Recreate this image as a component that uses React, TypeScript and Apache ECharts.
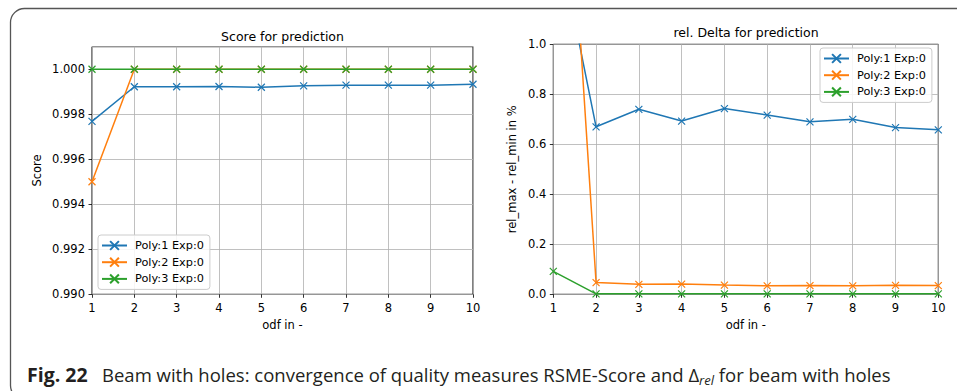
import React, { useEffect, useRef } from "react";
import * as echarts from "echarts";

const odf = [1, 2, 3, 4, 5, 6, 7, 8, 9, 10];
const seriesNames = ["Poly:1 Exp:0", "Poly:2 Exp:0", "Poly:3 Exp:0"];
const colors = ["#1f77b4", "#ff7f0e", "#2ca02c"];

const scorePoly1 = [0.99768, 0.99922, 0.99922, 0.99923, 0.9992, 0.99926, 0.99929, 0.99929, 0.99929, 0.99933];
const scorePoly2 = [0.995, 1.0, 1.0, 1.0, 1.0, 1.0, 1.0, 1.0, 1.0, 1.0];
const scorePoly3 = [1.0, 1.0, 1.0, 1.0, 1.0, 1.0, 1.0, 1.0, 1.0, 1.0];

const deltaPoly1 = [1.52, 0.67, 0.74, 0.693, 0.743, 0.717, 0.69, 0.7, 0.667, 0.658];
const deltaPoly2 = [2.7, 0.047, 0.04, 0.041, 0.037, 0.034, 0.035, 0.034, 0.036, 0.035];
const deltaPoly3 = [0.092, 0.002, 0.002, 0.002, 0.002, 0.002, 0.002, 0.002, 0.002, 0.002];

const scoreTicks = { min: 0.99, max: 1.001, interval: 0.002 };
const deltaTicks = { min: 0, max: 1.0, interval: 0.2 };

const FONT = "DejaVu Sans";
const X_MARK = "path://M0,0L10,10M10,0L0,10";

function pairs(ys: number[]) {
  return odf.map((x, i) => [x, ys[i]]);
}

export default function App() {
  const ref = useRef<HTMLDivElement>(null);
  useEffect(() => {
    if (!ref.current) return;
    const chart = echarts.init(ref.current, null, { renderer: "svg" });

    const grids = [
      { left: 92, top: 46.7, width: 381, height: 247.6 },
      { left: 553.3, top: 44.3, width: 385, height: 250 },
    ];

    const baseText = { fontFamily: FONT, fontSize: 11.5, color: "#000" };

    const xAxisCfg = (gi: number) => ({
      type: "value",
      gridIndex: gi,
      min: 1,
      max: 10,
      interval: 1,
      name: "odf in -",
      nameLocation: "middle",
      nameGap: 24,
      nameTextStyle: { ...baseText },
      axisLine: { show: false },
      axisTick: { show: true, length: 3.5, lineStyle: { color: "#000", width: 0.8 } },
      axisLabel: { ...baseText, margin: 7.5 },
      splitLine: { show: true, lineStyle: { color: "#b0b0b0", width: 0.8 } },
    });

    const seriesFor = (gi: number, arrs: number[][]) =>
      arrs.map((ys, i) => ({
        type: "line",
        name: seriesNames[i],
        xAxisIndex: gi,
        yAxisIndex: gi,
        data: pairs(ys),
        symbol: X_MARK,
        symbolSize: 7,
        showAllSymbol: true,
        clip: true,
        z: 2 + i,
        lineStyle: { color: colors[i], width: 1.5 },
        itemStyle: { color: colors[i], borderColor: colors[i], borderWidth: 1.2 },
      }));

    const legendCfg = (left: number, top: number) => ({
      orient: "vertical",
      left,
      top,
      data: seriesNames,
      itemWidth: 25,
      itemHeight: 11,
      itemGap: 5.7,
      padding: [5, 6, 5, 3],
      backgroundColor: "rgba(255,255,255,0.85)",
      borderColor: "#cccccc",
      borderWidth: 1,
      borderRadius: 3,
      selectedMode: false,
      textStyle: { ...baseText, fontSize: 11.3, padding: [0, 0, 0, 3] },
    });

    chart.setOption({
      animation: false,
      backgroundColor: "#fff",
      grid: grids.map((g) => ({ ...g, show: true, borderColor: "#000", borderWidth: 1, backgroundColor: "transparent" })),
      xAxis: [xAxisCfg(0), xAxisCfg(1)],
      yAxis: [
        {
          type: "value",
          gridIndex: 0,
          ...scoreTicks,
          name: "Score",
          nameLocation: "middle",
          nameGap: 49,
          nameTextStyle: { ...baseText },
          axisLine: { show: false },
          axisTick: { show: true, length: 3.5, lineStyle: { color: "#000", width: 0.8 } },
          axisLabel: {
            ...baseText,
            margin: 7,
            showMaxLabel: false,
            formatter: (v: number) => v.toFixed(3),
          },
          splitLine: { show: true, lineStyle: { color: "#b0b0b0", width: 0.8 } },
        },
        {
          type: "value",
          gridIndex: 1,
          ...deltaTicks,
          name: "rel_max - rel_min in %",
          nameLocation: "middle",
          nameGap: 35,
          nameTextStyle: { ...baseText },
          axisLine: { show: false },
          axisTick: { show: true, length: 3.5, lineStyle: { color: "#000", width: 0.8 } },
          axisLabel: { ...baseText, margin: 7, formatter: (v: number) => v.toFixed(1) },
          splitLine: { show: true, lineStyle: { color: "#b0b0b0", width: 0.8 } },
        },
      ],
      legend: [legendCfg(98, 235), legendCfg(820, 48)],
      series: [
        ...seriesFor(0, [scorePoly1, scorePoly2, scorePoly3]),
        ...seriesFor(1, [deltaPoly1, deltaPoly2, deltaPoly3]),
      ],
      graphic: [
        {
          type: "rect",
          silent: true,
          z: -1,
          shape: { x: 10.5, y: 8.5, width: 1000, height: 391, r: 14 },
          style: { fill: "none", stroke: "#555", lineWidth: 1.3 },
        },
        {
          type: "text",
          x: 282.5,
          y: 36,
          style: { text: "Score for prediction", fontFamily: FONT, fontSize: 12.5, fill: "#000", align: "center", verticalAlign: "middle" },
        },
        {
          type: "text",
          x: 746,
          y: 32.5,
          style: { text: "rel. Delta for prediction", fontFamily: FONT, fontSize: 12.5, fill: "#000", align: "center", verticalAlign: "middle" },
        },
        {
          type: "text",
          x: 27,
          y: 374,
          style: {
            text: "{b|Fig. 22}{n|   Beam with holes: convergence of quality measures RSME-Score and Δ}{s|rel}{n| for beam with holes}",
            verticalAlign: "middle",
            rich: {
              b: { fontFamily: "Open Sans", fontWeight: "bold", fontSize: 19.5, fill: "#231f20", color: "#231f20" },
              n: { fontFamily: "Open Sans", fontSize: 18.5, fill: "#231f20", color: "#231f20" },
              s: { fontFamily: "Open Sans", fontStyle: "italic", fontSize: 13, fill: "#231f20", color: "#231f20", padding: [11, 0, 0, 0] },
            },
          },
        },
      ],
    });
    return () => chart.dispose();
  }, []);
  return <div ref={ref} style={{ position: "fixed", left: 0, top: 0, width: 957, height: 391 }} />;
}
